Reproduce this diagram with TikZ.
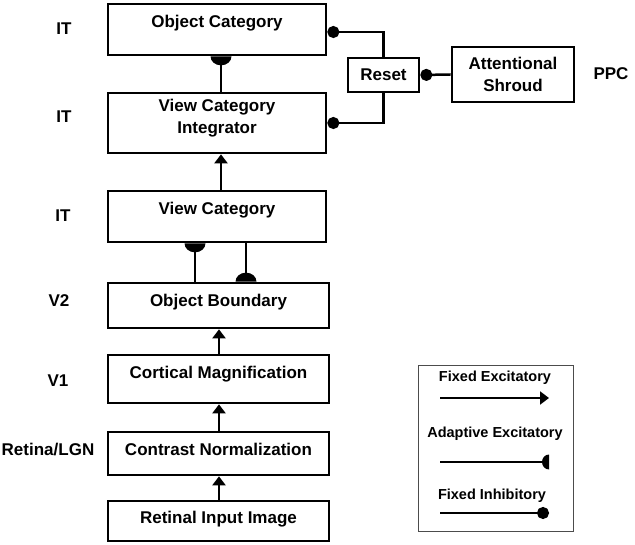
\documentclass[tikz,border=0pt]{standalone}
\usepackage{fontspec}
\setmainfont{Liberation Sans}
\usetikzlibrary{arrows.meta,calc}
\pgfdeclarearrow{
  name = HalfDisk,
  parameters = {\the\pgfarrowlength,\the\pgfarrowwidth},
  setup code = {
    \pgfarrowssettipend{0pt}
    \pgfarrowssetlineend{-0.5\pgfarrowlength}
    \pgfarrowssetbackend{-\pgfarrowlength}
    \pgfarrowshullpoint{0pt}{0.5\pgfarrowwidth}
    \pgfarrowshullpoint{0pt}{-0.5\pgfarrowwidth}
    \pgfarrowshullpoint{-\pgfarrowlength}{0pt}
    \pgfarrowssavethe\pgfarrowlength
    \pgfarrowssavethe\pgfarrowwidth
  },
  drawing code = {
    \pgfpathmoveto{\pgfqpoint{0pt}{0.5\pgfarrowwidth}}
    \pgfpatharc{90}{270}{\pgfarrowlength and 0.5\pgfarrowwidth}
    \pgfpathclose
    \pgfusepathqfill
  },
  defaults = {length = 8pt, width = 20pt}
}
\tikzset{
  box/.style={draw, line width=2.7pt, fill=white, inner sep=0pt},
  txt/.style={font=\fontsize{17}{22}\selectfont\bfseries, align=center, inner sep=0pt},
  lgtxt/.style={font=\fontsize{14.5}{18}\selectfont\bfseries, inner sep=0pt},
  fexc/.style={line width=2.5pt, -{Triangle[length=9pt,width=13pt]}},
  adapt/.style={line width=2.5pt, -{HalfDisk[length=9pt,width=21pt]}},
  inhib/.style={line width=2.5pt, -{Circle[length=12pt,width=12pt]}},
}
\begin{document}
\begin{tikzpicture}[x=1pt,y=-1pt]
\useasboundingbox (0,0) rectangle (635,545);
% boxes
\node[box, minimum width=218pt, minimum height=51pt] (oc) at (217,29.5) {};
\node[box, minimum width=218pt, minimum height=60pt] (vci) at (217,123) {};
\node[box, minimum width=218pt, minimum height=51pt] (vc) at (217,216.5) {};
\node[box, minimum width=221pt, minimum height=45pt] (ob) at (218.5,305.5) {};
\node[box, minimum width=221pt, minimum height=48pt] (cm) at (218.5,379) {};
\node[box, minimum width=221pt, minimum height=43pt] (cn) at (218.5,453.5) {};
\node[box, minimum width=221pt, minimum height=40pt] (rii) at (218.5,521) {};
\node[box, minimum width=71pt, minimum height=34pt] (reset) at (383.5,75) {};
\node[box, minimum width=122pt, minimum height=55pt] (as) at (513,74.5) {};
% box texts
\node[txt] (toc) at (217,23) {Object Category};
\node[txt] (tvci) at (217,118) {View Category\\Integrator};
\node[txt] (tvc) at (217,210) {View Category};
\node[txt] (tob) at (218.5,302) {Object Boundary};
\node[txt] (tcm) at (218.5,374) {Cortical Magnification};
\node[txt] (tcn) at (218.5,449) {Contrast Normalization};
\node[txt] (trii) at (218.5,519) {Retinal Input Image};
\node[txt] (treset) at (383.5,75) {Reset};
\node[txt] (tas) at (513,74) {Attentional\\Shroud};
% area labels
\node[txt] (l1) at (64,29) {IT};
\node[txt] (l2) at (64,117) {IT};
\node[txt] (l3) at (63,216) {IT};
\node[txt] (l4) at (59,301) {V2};
\node[txt] (l5) at (58,381) {V1};
\node[txt] (l6) at (48,450) {Retina/LGN};
\node[txt] (l7) at (611,74) {PPC};
% connectors
\draw[adapt] ([xshift=4pt]vci.north) -- ([xshift=4pt]oc.south);
\draw[fexc] ([xshift=4pt]vc.north) -- ([xshift=4pt]vci.south);
\draw[adapt] ([xshift=-23.5pt]ob.north) -- ([xshift=-22pt]vc.south);
\draw[adapt] ([xshift=29pt]vc.south) -- ([xshift=27.5pt]ob.north);
\draw[fexc] ([xshift=0.5pt]cm.north) -- ([xshift=0.5pt]ob.south);
\draw[fexc] ([xshift=0.5pt]cn.north) -- ([xshift=0.5pt]cm.south);
\draw[fexc] ([xshift=0.5pt]rii.north) -- ([xshift=0.5pt]cn.south);
\draw[inhib] (as.west) -- (reset.east);
\draw[inhib] (reset.north) |- ([yshift=-2.5pt]oc.east);
\draw[inhib] (reset.south) |- (vci.east);
% legend
\node[draw=black!70, line width=1pt, minimum width=155pt, minimum height=165pt, inner sep=0pt] (leg) at (495.5,448.5) {};
\node[lgtxt] (lt1) at (495,378) {Fixed Excitatory};
\node[lgtxt] (lt2) at (495,434) {Adaptive Excitatory};
\node[lgtxt] (lt3) at (492,496) {Fixed Inhibitory};
\coordinate (a1) at (440,398);
\coordinate (b1) at (549,398);
\coordinate (a2) at (440,462);
\coordinate (b2) at (549,462);
\coordinate (a3) at (440,513);
\coordinate (b3) at (549,513);
\draw[fexc] (a1) -- (b1);
\draw[line width=2.5pt, -{HalfDisk[length=7pt,width=15pt]}] (a2) -- (b2);
\draw[inhib] (a3) -- (b3);
\end{tikzpicture}
\end{document}
